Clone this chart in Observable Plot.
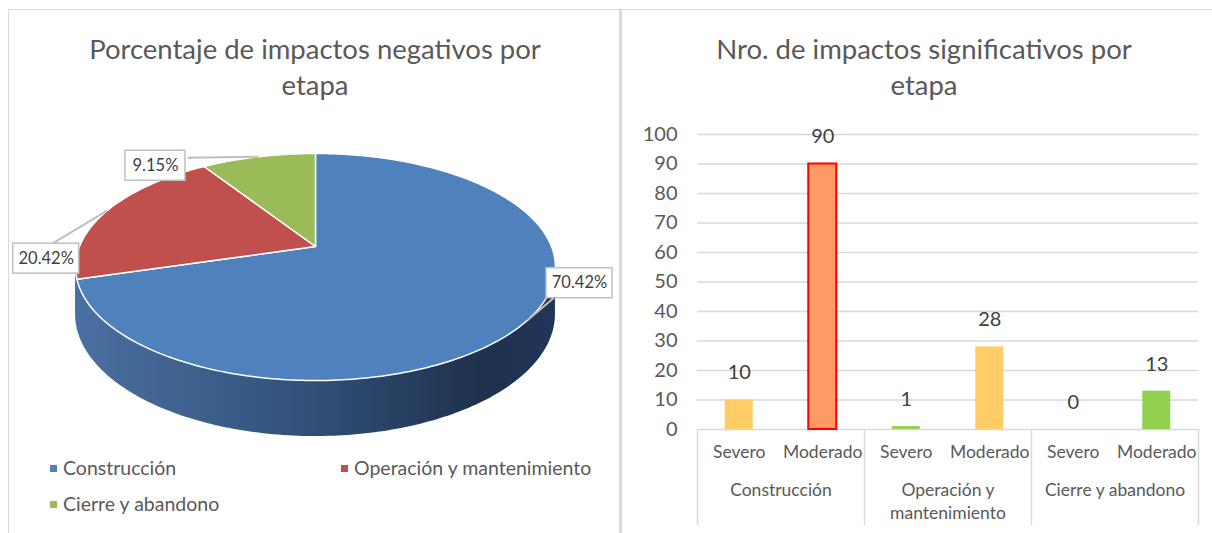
<!DOCTYPE html>
<html><head><meta charset="utf-8">
<script src="https://cdn.jsdelivr.net/npm/d3@7"></script>
<script src="https://cdn.jsdelivr.net/npm/@observablehq/plot@0.6"></script>
<style>
html,body{margin:0;padding:0;background:#fff;}
body{width:1212px;height:533px;position:relative;overflow:hidden;font-family:Lato,"Open Sans",sans-serif;color:#595959;}
.box{position:absolute;top:9px;box-sizing:border-box;border-top:1px solid #d9d9d9;height:540px;}
#leftBox{left:8px;width:613px;border-left:1px solid #d9d9d9;border-right:2px solid #d9d9d9;}
#rightBox{left:620px;width:600px;border-left:2px solid #d9d9d9;}
.title{position:absolute;top:31px;text-align:center;font-size:27.5px;line-height:36px;color:#595959;white-space:nowrap;}
.abs{position:absolute;}
.leg{position:absolute;font-size:19.5px;line-height:22px;color:#595959;white-space:nowrap;}
.leg i{display:inline-block;width:7px;height:7px;margin-right:6px;vertical-align:middle;position:relative;top:-2px;}
</style>
</head><body>
<div class="box" id="leftBox"></div>
<div class="box" id="rightBox"></div>
<div class="title" style="left:9px;width:612px;">Porcentaje de impactos negativos por<br>etapa</div>
<div class="title" style="left:622px;width:604px;">Nro. de impactos significativos por<br>etapa</div>
<div class="abs" id="pie" style="left:9px;top:100px;"></div>
<div id="legend"></div>
<div class="abs" id="bars" style="left:622px;top:115px;"></div>
<script>
// ---- data ----
const stages = ["Construcción", "Operación y mantenimiento", "Cierre y abandono"];
const stagePct = [70.42, 20.42, 9.15];
const stageColors = ["#4f81bd", "#c0504d", "#9bbb59"];

const levels = ["Severo", "Moderado"];
const severoCounts = [10, 1, 0];
const moderadoCounts = [90, 28, 13];
const severoColors = ["#ffcc66", "#92d050", "#92d050"];
const moderadoColors = ["#ff9966", "#ffcc66", "#92d050"];
const yTicks = [0, 10, 20, 30, 40, 50, 60, 70, 80, 90, 100];

const FONT = "Lato, 'Open Sans', sans-serif";

// ---- pie (3D perspective) ----
const K = 0.1807, DEPTH = 0.418, R = 236, H = 109.8;
function proj(theta, drop = 0) {
  const t = theta * Math.PI / 180, sx = Math.sin(t), sz = Math.cos(t), w = 1 + K * sz;
  return {x: sx / w, y: (sz - drop) / w};
}
const total = d3.sum(stagePct);
let acc = 0;
const slices = stages.map((s, i) => {
  const a0 = acc / total * 360; acc += stagePct[i]; const a1 = acc / total * 360;
  return {stage: s, a0, a1, mid: (a0 + a1) / 2, pct: stagePct[i]};
});
const slicePts = slices.flatMap(sl => {
  const pts = [{stage: sl.stage, x: 0, y: 0}];
  const n = Math.max(2, Math.ceil(sl.a1 - sl.a0));
  for (let j = 0; j <= n; j++) pts.push({stage: sl.stage, ...proj(sl.a0 + (sl.a1 - sl.a0) * j / n)});
  pts.push({stage: sl.stage, x: 0, y: 0});
  return pts;
});
const thA = Math.acos(-K) * 180 / Math.PI, thB = 360 - thA;
const sideThetas = d3.range(thA, thB, 1).concat([thB]);
const side = sideThetas.map(t => { const a = proj(t), b = proj(t, DEPTH); return {x: a.x, y1: a.y, y2: b.y}; });

// label layout (pixel offsets: box centre from rim point, leader end from box centre)
const labelLayout = [
  {box: [52, -37], end: [-26, 15]},
  {box: [-61, 48], end: [6, -15]},
  {box: [-103, 9], end: [32, -8]}
];
const labels = slices.map((sl, i) => {
  const rim = proj(sl.mid);
  const L = labelLayout[i];
  const cx = rim.x + L.box[0] / R, cy = rim.y - L.box[1] / H;
  const text = sl.pct.toFixed(2) + "%";
  const bw = 30 + 6 * text.length, bh = 30;
  return {text, rx: rim.x, ry: rim.y, cx, cy,
    ex: cx + L.end[0] / R, ey: cy - L.end[1] / H,
    x1: cx - bw / 2 / R, x2: cx + bw / 2 / R, y1: cy - bh / 2 / H, y2: cy + bh / 2 / H};
});

const defsMark = () => {
  const defs = d3.create("svg:defs");
  const g = defs.append("linearGradient").attr("id", "pieSide").attr("x1", 0).attr("x2", 1).attr("y1", 0).attr("y2", 0);
  g.append("stop").attr("offset", "0").attr("stop-color", "#4a70a2");
  g.append("stop").attr("offset", "0.45").attr("stop-color", "#33537c");
  g.append("stop").attr("offset", "0.85").attr("stop-color", "#1f314d");
  g.append("stop").attr("offset", "1").attr("stop-color", "#22355a");
  return defs.node();
};

const pie = Plot.plot({
  width: 610, height: 350,
  marginLeft: 70, marginRight: 68, marginTop: 36.2, marginBottom: 94.2,
  x: {domain: [-1, 1], axis: null},
  y: {domain: [-1, 1], axis: null},
  color: {domain: stages, range: stageColors},
  style: {fontFamily: FONT, background: "transparent", overflow: "visible"},
  marks: [
    defsMark,
    Plot.areaY(side, {x: "x", y1: "y1", y2: "y2", fill: "url(#pieSide)", curve: "linear"}),
    Plot.line(slicePts, {x: "x", y: "y", z: "stage", fill: "stage", stroke: "white", strokeWidth: 1.5, curve: "linear"}),
    Plot.link(labels, {x1: "rx", y1: "ry", x2: "ex", y2: "ey", stroke: "#bfbfbf", strokeWidth: 2}),
    Plot.rect(labels, {x1: "x1", x2: "x2", y1: "y1", y2: "y2", fill: "white", stroke: "#bfbfbf", strokeWidth: 1.5}),
    Plot.text(labels, {x: "cx", y: "cy", text: "text", fontSize: 16.5, fill: "#404040"})
  ]
});
document.getElementById("pie").appendChild(pie);

// legend
const legPos = [[50, 457], [341, 457], [50, 493]];
const legend = document.getElementById("legend");
stages.forEach((s, i) => {
  const d = document.createElement("div");
  d.className = "leg";
  d.style.left = legPos[i][0] + "px"; d.style.top = legPos[i][1] + "px";
  d.innerHTML = `<i style="background:${stageColors[i]}"></i>${s}`;
  legend.appendChild(d);
});

// ---- bar chart ----
const bars = stages.flatMap((g, i) => [
  {group: g, level: levels[0], value: severoCounts[i], color: severoColors[i], pos: 2 * i},
  {group: g, level: levels[1], value: moderadoCounts[i], color: moderadoColors[i], pos: 2 * i + 1}
]);
const chart = Plot.plot({
  width: 590, height: 418,
  marginLeft: 75, marginRight: 14, marginTop: 19, marginBottom: 104,
  x: {domain: [0, 6], axis: null},
  y: {domain: [0, 100], axis: null},
  color: {type: "identity"},
  style: {fontFamily: FONT, color: "#595959", background: "transparent", overflow: "visible"},
  marks: [
    Plot.gridY(yTicks, {stroke: "#d9d9d9", strokeOpacity: 1, strokeWidth: 1.5}),
    Plot.axisY(yTicks, {tickSize: 0, tickPadding: 20, fontSize: 20, fill: "#595959", label: null}),
    Plot.rectY(bars, {x1: "pos", x2: d => d.pos + 1, y1: 0, y2: "value", fill: "color",
      stroke: d => (d.group === stages[0] && d.level === levels[1]) ? "#ff0000" : "none",
      strokeWidth: 2, insetLeft: 27.75, insetRight: 27.75}),
    Plot.text(bars, {x: d => d.pos + 0.5, y: "value", text: d => String(d.value), dy: -27, fontSize: 20, fill: "#404040"}),
    Plot.axisX(bars.map(d => d.pos + 0.5), {tickSize: 0, tickPadding: 16, fontSize: 17.5, fill: "#595959", label: null,
      tickFormat: v => levels[Math.floor(v) % 2]}),
    Plot.text(stages, {x: (d, i) => 2 * i + 1, frameAnchor: "bottom", lineAnchor: "top", dy: 50,
      lineWidth: 11, lineHeight: 1.32, fontSize: 17.5, fill: "#595959"}),
    Plot.ruleX(stages.map((d, i) => 2 * i).concat([2 * stages.length]), {insetTop: 295, insetBottom: -96, stroke: "#d9d9d9", strokeWidth: 1.5})
  ]
});
document.getElementById("bars").appendChild(chart);
</script>
</body></html>
